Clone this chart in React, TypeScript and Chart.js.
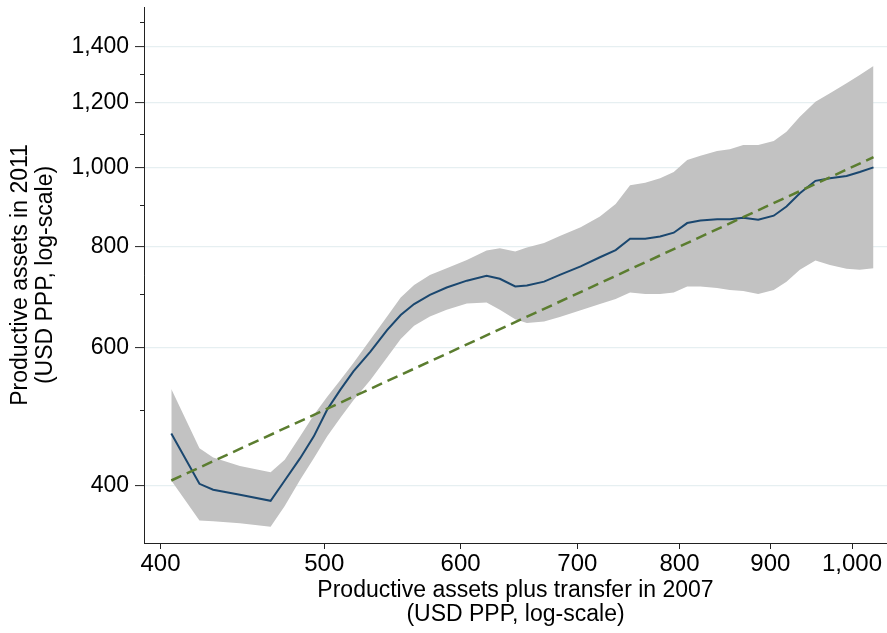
import React, { useEffect, useRef } from "react";
import { Chart, registerables } from "chart.js";

Chart.register(...registerables);

// x: productive assets plus transfer in 2007 (USD PPP)
const xValues = [406, 422, 430, 446, 465, 474, 484, 493, 502, 511, 520, 532, 544, 554, 564, 576, 589, 605, 621, 632, 645, 655, 670, 684, 703, 721, 736, 750, 765, 780, 794, 808, 822, 840, 854, 869, 886, 904, 919, 935, 954, 972, 993, 1010, 1028];
// smoothed productive assets in 2011
const meanValues = [467, 402, 395, 389, 382, 406, 434, 463, 501, 531, 560, 593, 631, 659, 680, 698, 713, 727, 737, 731, 715, 717, 725, 739, 757, 777, 793, 819, 819, 824, 833, 856, 862, 865, 865, 869, 864, 874, 897, 931, 964, 971, 977, 988, 1001];
// confidence band
const upperValues = [532, 447, 435, 424, 416, 432, 463, 493, 520, 546, 574, 614, 656, 693, 718, 739, 753, 771, 792, 797, 790, 799, 809, 825, 846, 872, 903, 952, 959, 971, 988, 1022, 1034, 1048, 1053, 1066, 1066, 1078, 1106, 1153, 1202, 1231, 1265, 1295, 1327];
const lowerValues = [406, 360, 359, 357, 353, 376, 407, 434, 463, 489, 515, 546, 583, 615, 639, 656, 669, 681, 683, 669, 651, 644, 647, 655, 668, 680, 690, 703, 700, 700, 703, 715, 715, 712, 708, 706, 700, 708, 725, 750, 770, 760, 752, 750, 753];
// reference line
const fitX = [406, 1028];
const fitY = [406, 1030];

const xTicks = [400, 500, 600, 700, 800, 900, 1000];
const yTicks = [400, 600, 800, 1000, 1200, 1400];
const yMinorTicks = [500, 700, 900, 1100, 1300, 1500];
const xRange = [391, 1046];
const yRange = [336, 1562];

const xTitle = ["Productive assets plus transfer in 2007", "(USD PPP, log-scale)"];
const yTitle = ["Productive assets in 2011", "(USD PPP, log-scale)"];

const LOG_OFFSET = 50;
const tr = (v: number) => Math.log(v + LOG_OFFSET);
const untr = (u: number) => Math.exp(u) - LOG_OFFSET;
const fmt = (v: number) => Math.round(untr(v)).toLocaleString("en-US");

const FONT = "'Liberation Sans', Arial, Helvetica, sans-serif";

export default function App() {
  const ref = useRef<HTMLCanvasElement>(null);

  useEffect(() => {
    const canvas = ref.current;
    if (!canvas) return;
    const pts = (ys: number[]) => xValues.map((x, i) => ({ x: tr(x), y: tr(ys[i]) }));

    const minorTicks = {
      id: "minorTicks",
      afterDraw(chart: any) {
        const ys = chart.scales.y;
        const ctx = chart.ctx;
        ctx.save();
        ctx.strokeStyle = "#222";
        ctx.lineWidth = 1;
        yMinorTicks.forEach((v) => {
          const py = Math.round(ys.getPixelForValue(tr(v))) + 0.5;
          ctx.beginPath();
          ctx.moveTo(ys.right - 4, py);
          ctx.lineTo(ys.right, py);
          ctx.stroke();
        });
        ctx.restore();
      },
    };

    const chart = new Chart(canvas, {
      type: "line",
      data: {
        datasets: [
          {
            label: "fit",
            data: fitX.map((x, i) => ({ x: tr(x), y: tr(fitY[i]) })),
            borderColor: "#5b7d2f",
            borderWidth: 2.5,
            borderDash: [11, 6],
            pointRadius: 0,
            fill: false,
            order: 0,
          },
          {
            label: "mean",
            data: pts(meanValues),
            borderColor: "#1a476f",
            borderWidth: 2,
            pointRadius: 0,
            fill: false,
            order: 1,
          },
          {
            label: "upper",
            data: pts(upperValues),
            borderColor: "rgba(0,0,0,0)",
            borderWidth: 0,
            backgroundColor: "#c2c2c2",
            pointRadius: 0,
            fill: "+1",
            order: 2,
          },
          {
            label: "lower",
            data: pts(lowerValues),
            borderColor: "rgba(0,0,0,0)",
            borderWidth: 0,
            pointRadius: 0,
            fill: false,
            order: 3,
          },
        ],
      },
      options: {
        responsive: false,
        animation: false,
        layout: { padding: { top: 7, left: 0, right: 0, bottom: 0 } },
        plugins: {
          legend: { display: false },
          tooltip: { enabled: false },
          filler: { drawTime: "beforeDatasetsDraw" },
        },
        scales: {
          x: {
            type: "linear",
            min: tr(xRange[0]),
            max: tr(xRange[1]),
            afterBuildTicks: (axis: any) => {
              axis.ticks = xTicks.map((v) => ({ value: tr(v) }));
            },
            afterFit: (axis: any) => {
              axis.height = 90;
              axis.paddingLeft = 0;
              axis.paddingRight = 0;
            },
            ticks: {
              callback: (v: any) => fmt(Number(v)),
              autoSkip: false,
              maxRotation: 0,
              padding: 1,
              color: "#000",
              font: { family: FONT, size: 24 },
            },
            grid: { drawOnChartArea: false, drawTicks: true, tickLength: 6, tickColor: "#222", tickWidth: 1 },
            border: { display: true, color: "#222", width: 1 },
            title: {
              display: true,
              text: xTitle,
              color: "#000",
              font: { family: FONT, size: 23, lineHeight: 1.04 },
              padding: { top: 0, bottom: 6 },
            },
          },
          y: {
            type: "linear",
            min: tr(yRange[0]),
            max: tr(yRange[1]),
            afterBuildTicks: (axis: any) => {
              axis.ticks = yTicks.map((v) => ({ value: tr(v) }));
            },
            afterFit: (axis: any) => {
              axis.width = 144;
              axis.paddingTop = 0;
              axis.paddingBottom = 0;
            },
            ticks: {
              callback: (v: any) => fmt(Number(v)),
              autoSkip: false,
              padding: 6,
              color: "#000",
              font: { family: FONT, size: 23 },
            },
            grid: { color: "#e6eff1", lineWidth: 1.2, drawTicks: true, tickLength: 9, tickColor: "#222", tickWidth: 1 },
            border: { display: true, color: "#222", width: 1 },
            title: {
              display: true,
              text: yTitle,
              color: "#000",
              font: { family: FONT, size: 23, lineHeight: 1.05 },
              padding: { top: 9, bottom: 0 },
            },
          },
        },
      },
      plugins: [minorTicks],
    } as any);

    return () => chart.destroy();
  }, []);

  return (
    <div style={{ position: "absolute", left: 0, top: 0, width: 887, height: 633, background: "#fff" }}>
      <canvas ref={ref} width={887} height={633} style={{ width: 887, height: 633 }} />
    </div>
  );
}
